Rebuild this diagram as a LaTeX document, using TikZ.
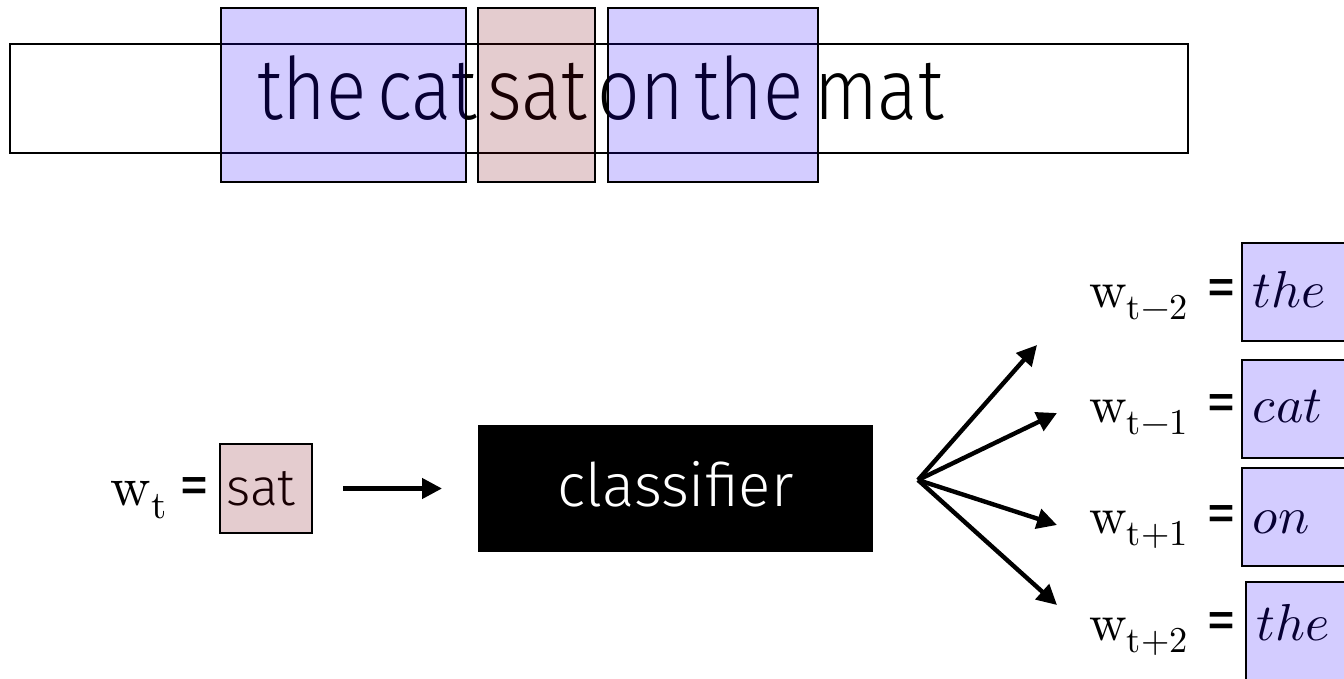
\documentclass[tikz,border=0pt]{standalone}
\usepackage{fontspec}
\usepackage{unicode-math}
\usetikzlibrary{arrows.meta}
\newfontfamily\fira{Fira Sans Light}
\newfontfamily\firanarrow[FakeStretch=0.87,WordSpace=0.5]{Fira Sans Light}
\newfontfamily\firaeq{Fira Sans}
\newcommand\eqsign{{\firaeq\fontsize{30}{30}\selectfont =}}
\definecolor{ctxblue}{RGB}{35,0,255}
\definecolor{tgtpink}{RGB}{120,0,15}
\begin{document}
\begin{tikzpicture}[x=0.5pt,y=-0.5pt,
  tint/.style={draw=black, line width=1pt, fill opacity=0.2},
  ctx/.style={tint, fill=ctxblue},
  tgt/.style={tint, fill=tgtpink},
  arr/.style={line width=2.2pt, -{Triangle[length=10pt,width=10pt]}},
  eqlabel/.style={anchor=base east, inner sep=0pt, font=\fontsize{26}{30}\selectfont},
  ctxword/.style={anchor=base west, inner sep=0pt, font=\fontsize{26}{30}\selectfont}]
\useasboundingbox (0,0) rectangle (1344,679);

% sentence strip with the sliding window
\draw[line width=1pt] (10,44) rectangle (1188,153);
\node[anchor=base west, inner sep=0pt, font=\firanarrow\fontsize{43}{50}\selectfont] (sent) at (257,120) {the cat sat on the mat};
\draw[ctx] (221,8) rectangle (466,182);
\draw[tgt] (478,8) rectangle (595,182);
\draw[ctx] (608,8) rectangle (818,182);

% input word
\node[eqlabel, font=\fontsize{28}{32}\selectfont] (wt) at (210,505) {$\symup{w}_{\symup{t}}$\hspace{6pt}\eqsign};
\node[anchor=base west, inner sep=0pt, font=\fira\fontsize{26}{30}\selectfont] (input) at (226,505) {sat};
\node[tgt, outer sep=0pt, minimum width=46pt, minimum height=44.5pt] (inbox) at (266,488.5) {};

% classifier
\node[fill=black, outer sep=0pt, minimum width=197.5pt, minimum height=63.5pt] (clf) at (675.5,488.5) {};
\node[anchor=base, inner sep=0pt, text=white, font=\fira\fontsize{30}{36}\selectfont] (clftext) at (675.5,506) {classifier};
\draw[arr, shorten <=15.5pt, shorten >=18pt] (inbox.east) -- (clf.west);

% fan of context predictions
\coordinate (fan) at (918,480);
\coordinate (tm2) at (1037,345);
\coordinate (tm1) at (1057,413);
\coordinate (tp1) at (1057,525);
\coordinate (tp2) at (1057,605);
\foreach \t in {tm2,tm1,tp1,tp2} \draw[arr] (fan) -- (\t);

% predicted context words
\node[eqlabel] (lm2) at (1237,307) {$\symup{w}_{\symup{t}-2}$\hspace{9pt}\eqsign};
\node[ctxword] (cm2) at (1252,307) {$the$};
\draw[ctx] (1242,243) rectangle (1370,341);
\node[eqlabel] (lm1) at (1237,422) {$\symup{w}_{\symup{t}-1}$\hspace{9pt}\eqsign};
\node[ctxword] (cm1) at (1252,422) {$cat$};
\draw[ctx] (1242,360) rectangle (1370,458);
\node[eqlabel] (lp1) at (1237,533) {$\symup{w}_{\symup{t}+1}$\hspace{9pt}\eqsign};
\node[ctxword] (cp1) at (1252,533) {$on$};
\draw[ctx] (1242,468) rectangle (1370,566);
\node[eqlabel] (lp2) at (1237,640) {$\symup{w}_{\symup{t}+2}$\hspace{9pt}\eqsign};
\node[ctxword] (cp2) at (1256,640) {$the$};
\draw[ctx] (1246,582) rectangle (1370,700);
\end{tikzpicture}
\end{document}
